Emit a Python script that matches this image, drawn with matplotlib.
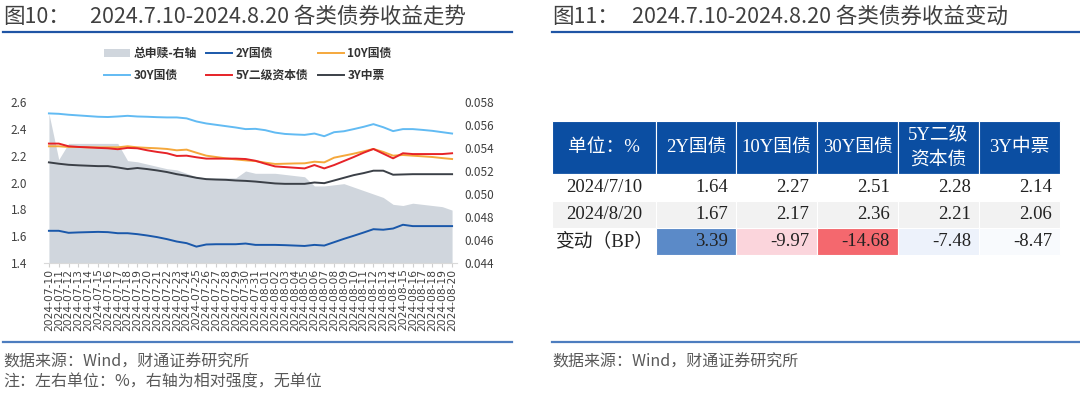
import numpy as np
import pandas as pd
import matplotlib
matplotlib.use('Agg')
import matplotlib.pyplot as plt
from matplotlib.lines import Line2D

plt.rcParams['font.family'] = ['Noto Sans CJK SC', 'DejaVu Sans']

# ---- data ----
dates = pd.date_range('2024-07-10', '2024-08-20').strftime('%Y-%m-%d').tolist()

flow = [0.0570, 0.0530, 0.0544, 0.0544, 0.0544, 0.0544, 0.0544, 0.0544, 0.0529, 0.0528,
        0.0526, 0.0524, 0.0522, 0.0521, 0.0518, 0.0515, 0.0514, 0.0514, 0.0514, 0.0514,
        0.0520, 0.0518, 0.0518, 0.0518, 0.0517, 0.0516, 0.0515, 0.0507, 0.0507, 0.0508,
        0.0509, 0.0506, 0.0503, 0.0500, 0.0497, 0.0491, 0.0490, 0.0492, 0.0491, 0.0490,
        0.0489, 0.0486]
y2 = [1.640, 1.640, 1.625, 1.628, 1.630, 1.632, 1.630, 1.622, 1.622, 1.615,
      1.605, 1.593, 1.578, 1.560, 1.548, 1.522, 1.538, 1.540, 1.540, 1.540,
      1.545, 1.535, 1.535, 1.535, 1.533, 1.530, 1.527, 1.535, 1.530, 1.555,
      1.580, 1.603, 1.627, 1.652, 1.648, 1.657, 1.685, 1.675, 1.675, 1.675,
      1.675, 1.675]
y10 = [2.270, 2.270, 2.265, 2.265, 2.262, 2.262, 2.262, 2.262, 2.270, 2.262,
       2.258, 2.255, 2.250, 2.240, 2.245, 2.222, 2.200, 2.190, 2.180, 2.172,
       2.165, 2.160, 2.148, 2.138, 2.140, 2.142, 2.143, 2.155, 2.150, 2.185,
       2.200, 2.215, 2.232, 2.250, 2.228, 2.200, 2.205, 2.200, 2.195, 2.190,
       2.182, 2.175]
y30 = [2.515, 2.512, 2.505, 2.500, 2.495, 2.490, 2.488, 2.492, 2.497, 2.492,
       2.490, 2.487, 2.485, 2.485, 2.478, 2.455, 2.440, 2.430, 2.420, 2.410,
       2.398, 2.400, 2.390, 2.372, 2.362, 2.358, 2.355, 2.365, 2.345, 2.375,
       2.382, 2.398, 2.415, 2.435, 2.412, 2.383, 2.398, 2.398, 2.392, 2.385,
       2.375, 2.365]
y5 = [2.290, 2.290, 2.270, 2.265, 2.262, 2.258, 2.255, 2.248, 2.258, 2.255,
      2.240, 2.228, 2.218, 2.198, 2.200, 2.188, 2.178, 2.178, 2.178, 2.178,
      2.175, 2.162, 2.140, 2.120, 2.115, 2.110, 2.105, 2.130, 2.105, 2.130,
      2.160, 2.190, 2.222, 2.250, 2.215, 2.180, 2.218, 2.212, 2.212, 2.212,
      2.212, 2.218]
y3 = [2.150, 2.140, 2.132, 2.128, 2.125, 2.122, 2.122, 2.112, 2.100, 2.108,
      2.100, 2.090, 2.078, 2.062, 2.050, 2.035, 2.025, 2.022, 2.020, 2.015,
      2.012, 2.007, 2.000, 1.993, 1.990, 1.990, 1.990, 2.000, 1.995, 2.015,
      2.035, 2.055, 2.070, 2.088, 2.088, 2.058, 2.060, 2.062, 2.062, 2.062,
      2.062, 2.062]

tbl_header = ['单位：%', '2Y国债', '10Y国债', '30Y国债', '5Y二级\n资本债', '3Y中票']
row_labels = ['2024/7/10', '2024/8/20', '变动（BP）']
v_start = [1.64, 2.27, 2.51, 2.28, 2.14]
v_end = [1.67, 2.17, 2.36, 2.21, 2.06]
v_chg = [3.39, -9.97, -14.68, -7.48, -8.47]
chg_colors = ['#5b8ac8', '#fbd5dc', '#f4686e', '#edf2fb', '#f8fafd']

# ---- figure ----
W, H = 1080, 394
fig = plt.figure(figsize=(W / 100, H / 100), dpi=100)
TXT = '#404040'

# titles + rules
fig.text(3 / W, 1 - 17 / H, '图10：', fontsize=15.5, color=TXT, va='center')
fig.text(90 / W, 1 - 17 / H, '2024.7.10-2024.8.20 各类债券收益走势', fontsize=15.5, color=TXT, va='center')
fig.text(552 / W, 1 - 17 / H, '图11：', fontsize=15.5, color=TXT, va='center')
fig.text(632 / W, 1 - 17 / H, '2024.7.10-2024.8.20 各类债券收益变动', fontsize=15.5, color=TXT, va='center')
for x0, x1 in [(3, 512), (552, 1080)]:
    fig.add_artist(Line2D([x0 / W, x1 / W], [1 - 32 / H] * 2, color='#1f55a5', lw=1.6))
    fig.add_artist(Line2D([x0 / W, x1 / W], [1 - 342 / H] * 2, color='#4d7dbf', lw=1.6))

fig.text(3 / W, 1 - 362 / H, '数据来源：Wind，财通证券研究所', fontsize=11.5, color='#595959', va='center')
fig.text(3 / W, 1 - 382 / H, '注：左右单位：%，右轴为相对强度，无单位', fontsize=11.5, color='#595959', va='center')
fig.text(552 / W, 1 - 362 / H, '数据来源：Wind，财通证券研究所', fontsize=11.5, color='#595959', va='center')

# ---- left chart ----
ax = fig.add_axes([44 / W, 1 - 263 / H, 413 / W, 161 / H])
ax2 = ax.twinx()
x = np.arange(len(dates))

area = ax2.fill_between(x, 0.044, flow, color='#d0d6dd', lw=0, label='总申赎-右轴')
l2, = ax.plot(x, y2, color='#1a58aa', lw=1.4, label='2Y国债')
l10, = ax.plot(x, y10, color='#f5a83c', lw=1.4, label='10Y国债')
l30, = ax.plot(x, y30, color='#62bbf3', lw=1.4, label='30Y国债')
l5, = ax.plot(x, y5, color='#e62328', lw=1.4, label='5Y二级资本债')
l3, = ax.plot(x, y3, color='#3b4047', lw=1.4, label='3Y中票')

ax.set_zorder(ax2.get_zorder() + 1)
ax.patch.set_visible(False)

ax.set_xlim(-0.5, len(dates) - 0.5)
ax.set_ylim(1.4, 2.6)
ax2.set_ylim(0.044, 0.058)
ax.set_yticks(np.arange(1.4, 2.61, 0.2))
ax.set_yticklabels([f'{v:.1f}' for v in np.arange(1.4, 2.61, 0.2)])
ax2.set_yticks(np.arange(0.044, 0.0581, 0.002))
ax2.set_yticklabels([f'{v:.3f}' for v in np.arange(0.044, 0.0581, 0.002)])
ax.set_xticks(x)
ax.set_xticklabels(dates, rotation=90, fontsize=7.7, color=TXT, family='DejaVu Sans')

for a in (ax, ax2):
    for s in ['top', 'left', 'right']:
        a.spines[s].set_visible(False)
    a.spines['bottom'].set_color('#d9d9d9')
ax2.spines['bottom'].set_visible(False)
ax.tick_params(axis='y', length=0, pad=12, labelsize=8.5, labelcolor=TXT)
ax2.tick_params(axis='y', length=0, pad=5, labelsize=8.5, labelcolor=TXT)
ax.tick_params(axis='x', length=3, color='#d0d0d0', pad=1)

handles = [area, l30, l2, l5, l10, l3]
leg = ax.legend(handles=handles, ncol=3, loc='upper left',
                bbox_to_anchor=(104 / W, 1 - 47 / H), bbox_transform=fig.transFigure,
                frameon=False, fontsize=8.5, handlelength=2.2, handletextpad=0.3,
                columnspacing=0.8, labelspacing=0.75, borderpad=0, borderaxespad=0)
for t in leg.get_texts():
    t.set_color('#333333')
    t.set_fontweight('bold')

# ---- right table ----
ax_t = fig.add_axes([552 / W, 1 - 255 / H, 508 / W, 134 / H])
ax_t.axis('off')
cell_text = [[row_labels[0]] + [f'{v:.2f}' for v in v_start],
             [row_labels[1]] + [f'{v:.2f}' for v in v_end],
             [row_labels[2]] + [f'{v:.2f}' for v in v_chg]]
col_w = [104, 80, 81, 81, 81, 81]
tbl = ax_t.table(cellText=cell_text, colLabels=tbl_header,
                 colWidths=[w / sum(col_w) for w in col_w],
                 cellLoc='right', bbox=[0, 0, 1, 1])
tbl.auto_set_font_size(False)
serif = ['Liberation Serif', 'Noto Sans CJK SC']
for (r, c), cell in tbl.get_celld().items():
    cell.set_edgecolor('white')
    cell.set_linewidth(0.8)
    t = cell.get_text()
    t.set_fontfamily(serif)
    t.set_fontsize(13.5)
    t.set_color('#222222')
    if r == 0:
        cell.set_height(53)
        cell.set_facecolor('#0b4ea2')
        t.set_color('white')
        t.set_ha('center')
        t.set_linespacing(1.5)
    else:
        cell.set_height(27)
        cell.set_facecolor('#f2f2f2' if r == 2 else 'white')
        if c == 0:
            t.set_ha('center')
        if r == 3 and c > 0:
            cell.set_facecolor(chg_colors[c - 1])

fig.savefig('out.png', dpi=100)
